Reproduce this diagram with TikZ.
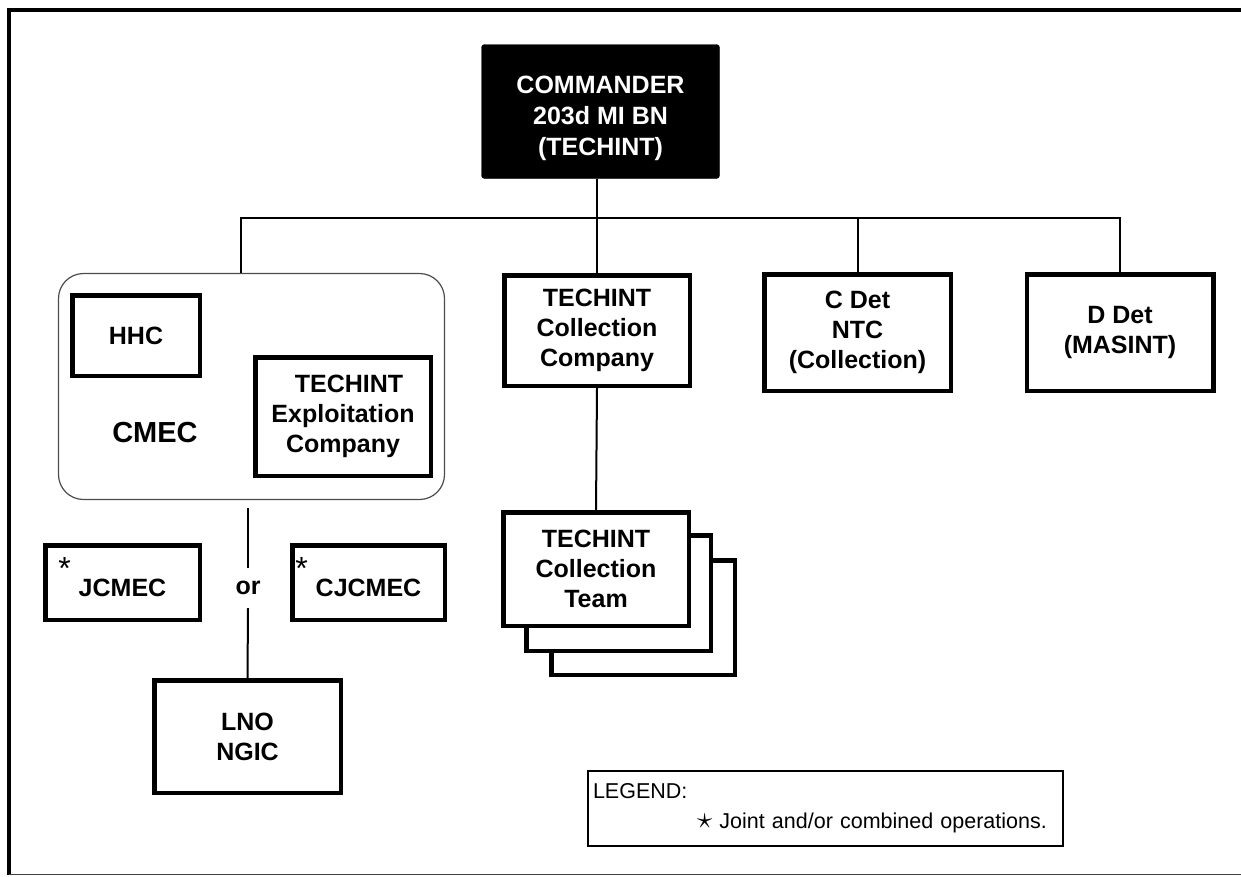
\documentclass[tikz,border=0pt]{standalone}
\usepackage{fontspec}
\setmainfont{Liberation Sans}
\usetikzlibrary{positioning}
\newcommand{\jointmark}{\llap{\raisebox{17pt}[0pt][0pt]{\fontsize{32}{32}\selectfont\mdseries*}\hspace{8pt}}}
\begin{document}
\begin{tikzpicture}[
    x=1pt, y=-1pt,
    font=\fontsize{25}{30}\selectfont\bfseries,
    unit/.style={draw, line width=4.5pt, fill=white, align=center, inner sep=0pt},
    link/.style={line width=2pt},
    frame/.style={line width=4pt}
]
\useasboundingbox (0,0) rectangle (1241,876);
\draw[frame] (1241,10) -- (9,10) -- (9,875);
\draw[line width=1.5pt, black!75] (9,874.5) -- (1241,874.5);

\node[draw, fill=black, text=white, rounded corners=3pt, minimum width=238pt, minimum height=134pt] (cmd) at (600.5,111.5) {\raisebox{-7pt}[\height][\depth]{\begin{tabular}{@{}c@{}}COMMANDER\\[1pt]203d MI BN\\[1pt](TECHINT)\end{tabular}}};

\node[unit, minimum width=185.5pt, minimum height=110.5pt] (colco) at (597,330.5) {TECHINT\\Collection\\Company};
\node[unit, minimum width=186.5pt, minimum height=116.5pt] (cdet) at (857.5,332.5) {C Det\\NTC\\(Collection)};
\node[unit, minimum width=186.5pt, minimum height=116.5pt] (ddet) at (1120,332.5) {D Det\\(MASINT)};

\node[unit, minimum width=183.5pt, minimum height=114.5pt] (team3) at (643,617.5) {};
\node[unit, minimum width=184.5pt, minimum height=115.5pt] (team2) at (618.5,593) {};
\node[unit, minimum width=185.5pt, minimum height=113.5pt] (team) at (596,569) {TECHINT\\Collection\\Team};

\node[draw, black!70, line width=1.2pt, rounded corners=25pt, minimum width=386pt, minimum height=226pt] (cmec) at (251.5,386.5) {};
\node[unit, minimum width=127.5pt, minimum height=80.5pt] (hhc) at (136,335.5) {HHC};
\node[unit, minimum width=175.5pt, minimum height=118.5pt] (expl) at (343,416.5) {\hspace*{12pt}TECHINT\\Exploitation\\Company};
\node[font=\fontsize{29}{34}\selectfont\bfseries] (cmeclabel) at (155,433) {CMEC};

\node[unit, minimum width=154.5pt, minimum height=74.5pt] (jcmec) at (122.5,582.5) {\raisebox{-5pt}[\height][\depth]{\jointmark JCMEC}};
\node[unit, minimum width=152.5pt, minimum height=74.5pt] (cjcmec) at (368.5,582.5) {\raisebox{-5pt}[\height][\depth]{\jointmark CJCMEC}};
\node[minimum height=40pt, inner sep=0pt] (or) at (248,588) {or};
\node[unit, minimum width=186.5pt, minimum height=112.5pt] (lno) at (247.5,736.5) {LNO\\NGIC};

\node[draw, line width=1.8pt, minimum height=75pt, text width=465pt, align=left, inner xsep=5pt, font=\fontsize{21.5}{30}\selectfont] (legend) at (825.5,808.5) {LEGEND:\\\hspace*{104pt}\scalebox{1.5}{$\star$} Joint and/or combined operations.};

\coordinate (busl) at (241,218);
\coordinate (busr) at (1120,218);
\coordinate (cmecfoot) at (248,508);
\draw[link] (cmd.south -| colco.north) -- (colco.north);
\draw[link] (cmec.north -| busl) -- (busl) -- (busr) -- (ddet.north);
\draw[link] (cdet.north) -- (cdet.north |- busl);
\draw[link] (colco.south) -- (team.north);
\draw[link] (cmecfoot) -- (or.north);
\draw[link] (or.south) -- (lno.north);
\end{tikzpicture}
\end{document}
